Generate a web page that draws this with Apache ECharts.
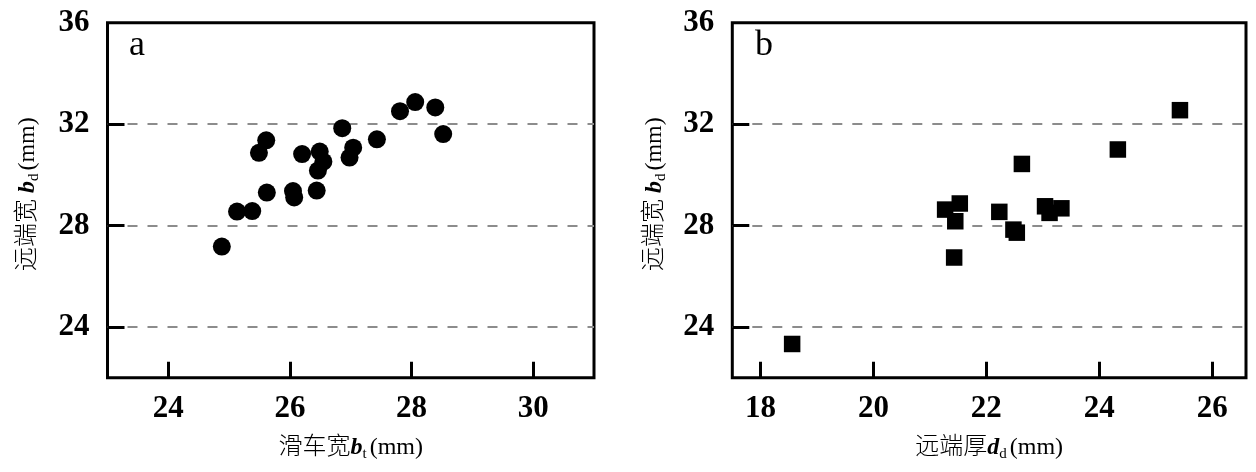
<!DOCTYPE html>
<html><head><meta charset="utf-8">
<script src="https://cdn.jsdelivr.net/npm/echarts@6/dist/echarts.min.js"></script>
<style>html,body{margin:0;padding:0;background:#fff}#c{width:1256px;height:472px}</style>
</head><body><div id="c"></div>
<script>
// Panel a: 滑车宽 bt (x) vs 远端宽 bd (y)
const trochleaWidth = [24.88,25.13,25.38,25.62,25.49,25.61,26.05,26.07,26.20,26.44,26.49,26.55,26.46,26.86,27.04,26.98,27.43,27.81,28.06,28.39,28.52];
const distalWidthA  = [27.17,28.55,28.57,29.30,30.87,31.36,29.36,29.11,30.82,29.38,30.92,30.52,30.17,31.84,31.07,30.68,31.40,32.51,32.87,32.66,31.61];
// Panel b: 远端厚 dd (x) vs 远端宽 bd (y)
const distalThick   = [18.56,21.27,21.53,21.45,21.43,22.23,22.48,22.54,22.63,23.04,23.12,23.33,24.33,25.43];
const distalWidthB  = [23.33,28.63,28.87,28.17,26.74,28.54,27.84,27.72,30.43,28.76,28.50,28.68,31.00,32.55];
// Tick labels
const xTicksA = [24,26,28,30];
const xTicksB = [18,20,22,24,26];
const yTickMarks = [24,28,32];
const yTickLabels = [24,28,32,36];

const serif = '"Liberation Serif", "Noto Sans CJK SC", serif';
const tickLabelStyle = {fontFamily: serif, fontWeight:'bold', fontSize:31, color:'#000'};
const nameRich = {
  b:{fontFamily:serif, fontStyle:'italic', fontWeight:'bold', fontSize:24, color:'#000', lineHeight:28},
  s:{fontFamily:serif, fontSize:15, color:'#000', verticalAlign:'bottom', padding:[0,3,0,0], lineHeight:28},
  n:{fontFamily:serif, fontSize:24, color:'#000', lineHeight:28, fontWeight:300}
};
const gridLine = {show:true, lineStyle:{color:'#8c8c8c', width:2, type:[10,10]}};

function xAxis(idx, min, max, ticks, name){
  return {type:'value', gridIndex:idx, min:min, max:max,
    axisLine:{show:false},
    axisTick:{show:true, inside:true, length:16, customValues:ticks, lineStyle:{color:'#000', width:3}},
    axisLabel:Object.assign({customValues:ticks, margin:16}, tickLabelStyle),
    splitLine:{show:false},
    name:name, nameLocation:'middle', nameGap:56,
    nameTextStyle:{fontFamily:serif, fontSize:24, color:'#000', rich:nameRich}};
}
function yAxis(idx, name, gap){
  return {type:'value', gridIndex:idx, min:22, max:36,
    axisLine:{show:false},
    axisTick:{show:true, inside:true, length:17, customValues:yTickMarks, lineStyle:{color:'#000', width:3}},
    axisLabel:Object.assign({customValues:yTickLabels, margin:18}, tickLabelStyle),
    splitLine:gridLine,
    name:name, nameLocation:'middle', nameGap:gap,
    nameTextStyle:{fontFamily:serif, fontSize:24, color:'#000', rich:nameRich, padding:[0,0,0,12]}};
}
const pairs = (xs, ys) => xs.map((x,i)=>[x, ys[i]]);

const chart = echarts.init(document.getElementById('c'), null, {renderer:'canvas'});
chart.setOption({
  animation:false,
  backgroundColor:'#fff',
  grid:[
    {left:107.5, top:22.7, width:486.5, height:355, show:true, borderColor:'#000', borderWidth:3, backgroundColor:'transparent'},
    {left:732.3, top:22.7, width:513.7, height:355, show:true, borderColor:'#000', borderWidth:3, backgroundColor:'transparent'}
  ],
  xAxis:[
    xAxis(0, 23, 31, xTicksA, '{n|滑车宽}{b|b}{s|t}{n|(mm)}'),
    xAxis(1, 17.5, 26.6, xTicksB, '{n|远端厚}{b|d}{s|d}{n|(mm)}')
  ],
  yAxis:[
    yAxis(0, '{n|远端宽 }{b|b}{s|d}{n|(mm)}', 66),
    yAxis(1, '{n|远端宽 }{b|b}{s|d}{n|(mm)}', 64)
  ],
  graphic:[
    {type:'text', left:129, top:28, style:{text:'a', font:'36px "Liberation Serif"', fill:'#000'}},
    {type:'text', left:755, top:28, style:{text:'b', font:'36px "Liberation Serif"', fill:'#000'}}
  ],
  series:[
    {type:'scatter', xAxisIndex:0, yAxisIndex:0, symbol:'circle', symbolSize:18,
     itemStyle:{color:'#000', opacity:1}, data:pairs(trochleaWidth, distalWidthA)},
    {type:'scatter', xAxisIndex:1, yAxisIndex:1, symbol:'rect', symbolSize:16.5,
     itemStyle:{color:'#000', opacity:1}, data:pairs(distalThick, distalWidthB)}
  ]
});
</script>
</body></html>
